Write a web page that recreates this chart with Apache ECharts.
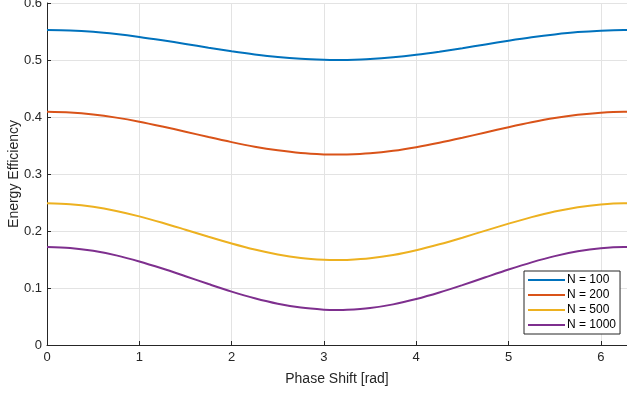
<!DOCTYPE html>
<html>
<head>
<meta charset="utf-8">
<script src="https://cdn.jsdelivr.net/npm/echarts@6/dist/echarts.min.js"></script>
<style>html,body{margin:0;padding:0;background:#fff}#c{width:627px;height:393px}</style>
</head>
<body>
<div id="c"></div>
<script>
var phase = [0, 0.25, 0.5, 0.75, 1, 1.25, 1.5, 1.75, 2, 2.25, 2.5, 2.75, 3, 3.1416, 3.25, 3.5, 3.75, 4, 4.25, 4.5, 4.75, 5, 5.25, 5.5, 5.75, 6, 6.25, 6.2832];
var n100 = [0.5526, 0.5518, 0.5494, 0.5455, 0.5405, 0.5346, 0.5282, 0.5216, 0.5154, 0.5098, 0.5052, 0.5020, 0.5003, 0.5000, 0.5002, 0.5017, 0.5047, 0.5091, 0.5146, 0.5208, 0.5273, 0.5338, 0.5398, 0.5449, 0.5490, 0.5515, 0.5526, 0.5526];
var n200 = [0.4090, 0.4078, 0.4044, 0.3989, 0.3918, 0.3833, 0.3742, 0.3648, 0.3559, 0.3479, 0.3415, 0.3368, 0.3344, 0.3340, 0.3342, 0.3364, 0.3407, 0.3470, 0.3548, 0.3636, 0.3729, 0.3821, 0.3907, 0.3981, 0.4038, 0.4075, 0.4090, 0.4090];
var n500 = [0.2486, 0.2470, 0.2425, 0.2352, 0.2257, 0.2145, 0.2023, 0.1899, 0.1781, 0.1675, 0.1589, 0.1528, 0.1495, 0.1490, 0.1493, 0.1522, 0.1579, 0.1663, 0.1766, 0.1883, 0.2007, 0.2129, 0.2243, 0.2341, 0.2417, 0.2466, 0.2486, 0.2486];
var n1000 = [0.1720, 0.1703, 0.1652, 0.1572, 0.1466, 0.1341, 0.1206, 0.1069, 0.0937, 0.0820, 0.0724, 0.0656, 0.0620, 0.0614, 0.0617, 0.0649, 0.0713, 0.0806, 0.0920, 0.1050, 0.1188, 0.1324, 0.1450, 0.1559, 0.1643, 0.1698, 0.1720, 0.1720];
var names = ['N = 100', 'N = 200', 'N = 500', 'N = 1000'];
var colors = ['#0072BD', '#D95319', '#EDB120', '#7E2F8E'];
var yTicks = [0, 0.1, 0.2, 0.3, 0.4, 0.5, 0.6];
var xTicks = [0, 1, 2, 3, 4, 5, 6];

function pairs(ys) { return phase.map(function (x, i) { return [x, ys[i]]; }); }
var all = [n100, n200, n500, n1000];
var font = 'Liberation Sans, Arial, Helvetica, sans-serif';

var chart = echarts.init(document.getElementById('c'), null, {renderer: 'canvas'});
chart.setOption({
  animation: false,
  backgroundColor: '#fff',
  grid: {left: 47, right: 0, top: 3, bottom: 48, containLabel: false, outerBoundsMode: 'none'},
  xAxis: {
    type: 'value', min: 0, max: 6.2832, interval: 1,
    name: 'Phase Shift [rad]', nameLocation: 'middle', nameGap: 27, nameMoveOverlap: false,
    nameTextStyle: {color: '#262626', fontSize: 14, fontFamily: font},
    axisLine: {show: true, lineStyle: {color: '#262626', width: 1}},
    axisTick: {show: true, inside: true, length: 4, lineStyle: {color: '#262626'}},
    axisLabel: {color: '#262626', fontSize: 13, fontFamily: font, margin: 6, showMaxLabel: false,
      formatter: function (v) { return xTicks.indexOf(v) >= 0 ? String(v) : ''; }},
    splitLine: {show: true, lineStyle: {color: '#e3e3e3', width: 1}}
  },
  yAxis: {
    type: 'value', min: 0, max: 0.6, interval: 0.1,
    name: 'Energy Efficiency', nameLocation: 'middle', nameGap: 26, nameMoveOverlap: false,
    nameTextStyle: {color: '#262626', fontSize: 14, fontFamily: font},
    axisLine: {show: true, lineStyle: {color: '#262626', width: 1}},
    axisTick: {show: true, inside: true, length: 4, lineStyle: {color: '#262626'}},
    axisLabel: {color: '#262626', fontSize: 13, fontFamily: font, margin: 5,
      formatter: function (v) { var r = Math.round(v * 10) / 10; return yTicks.indexOf(r) >= 0 ? String(r) : ''; }},
    splitLine: {show: true, lineStyle: {color: '#e3e3e3', width: 1}}
  },
  legend: {
    orient: 'vertical', left: 524, top: 271,
    backgroundColor: '#fff', borderColor: '#262626', borderWidth: 1, borderRadius: 0,
    padding: [3, 4, 3, 4], itemGap: 3, itemWidth: 37, itemHeight: 13,
    textStyle: {color: '#000', fontSize: 12, fontFamily: font, padding: [0, 0, 0, -3]},
    data: names.map(function (n) { return {name: n, icon: 'path://M0,5 L37,5 L37,7 L0,7 Z'}; })
  },
  series: all.map(function (ys, i) {
    return {
      name: names[i], type: 'line', data: pairs(ys), smooth: 0.3,
      showSymbol: false, symbol: 'none',
      lineStyle: {color: colors[i], width: 2},
      itemStyle: {color: colors[i]}
    };
  })
});
</script>
</body>
</html>
